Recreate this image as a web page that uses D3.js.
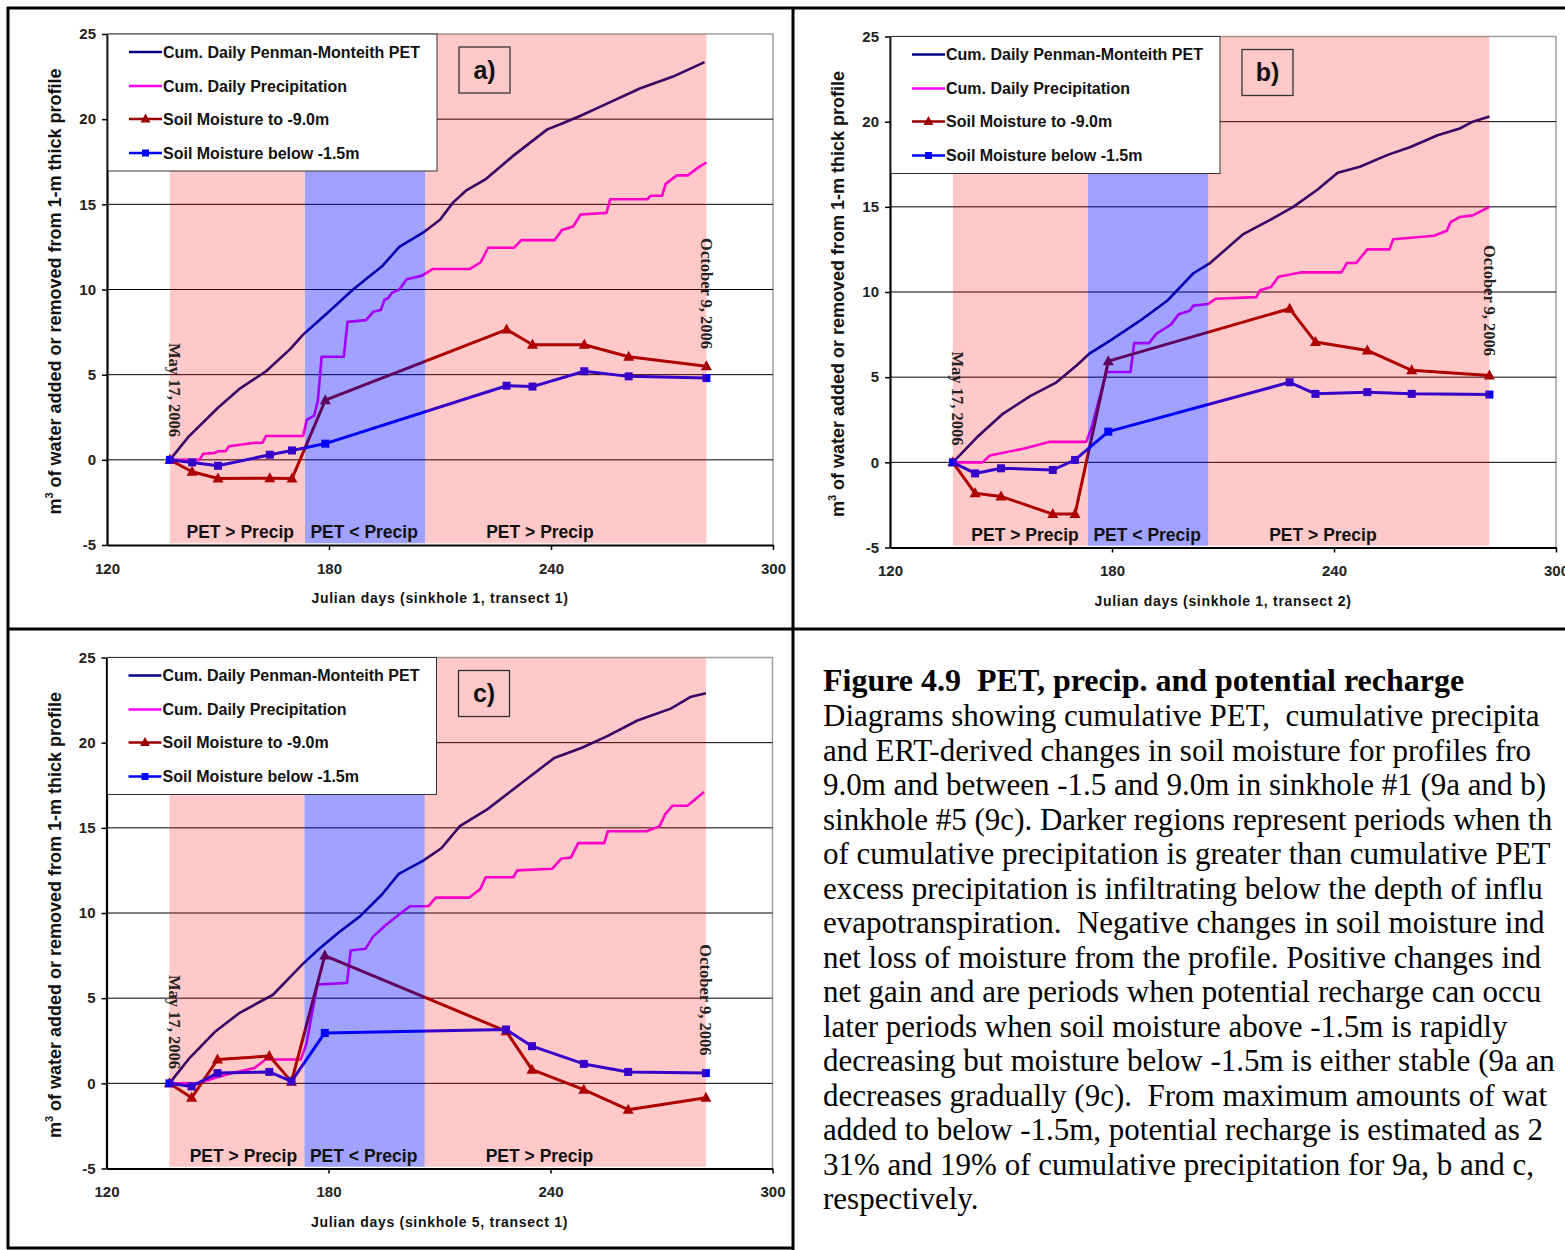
<!DOCTYPE html>
<html>
<head>
<meta charset="utf-8">
<script src="https://cdn.jsdelivr.net/npm/d3@7"></script>
<style>
  html, body { margin: 0; padding: 0; background: #fff; overflow: hidden; }
  svg { display: block; }
</style>
</head>
<body>
<div id="chart"></div>
<script>
'use strict';

const WIDTH = 1565;
const HEIGHT = 1250;

// survey days for the ERT soil moisture points
const sampleDays = [137, 143, 150, 164, 170, 179, 228, 235, 249, 261, 282];

// panel a (sinkhole 1, transect 1)
const petA = [[137, 0], [142, 1.35], [150, 3.06], [156, 4.2], [163, 5.2], [169.5, 6.5], [173, 7.35], [179.5, 8.6],
  [186.5, 10], [194.5, 11.4], [199, 12.5], [205.5, 13.35], [210, 14.1], [213.5, 15.1], [217, 15.8], [222.5, 16.5],
  [229.5, 17.8], [239, 19.4], [242.5, 19.7], [248, 20.2], [255, 20.9], [264, 21.8], [273, 22.5], [281.5, 23.35]];
const precipA = [[137, 0], [145, 0], [146, 0.35], [149, 0.4], [150, 0.5], [152, 0.5], [153, 0.8], [160, 1.0],
  [162, 1.0], [163, 1.4], [173, 1.4], [174, 2.35], [176, 2.6], [177, 3.5], [178, 6.05], [184, 6.05], [185, 8.1],
  [190, 8.2], [192, 8.7], [194, 8.8], [195, 9.4], [196, 9.5], [197, 9.8], [199, 10], [201, 10.6], [205, 10.8],
  [208, 11.2], [218, 11.2], [221, 11.6], [223, 12.45], [230, 12.45], [232, 12.9], [241, 12.9], [243, 13.5],
  [246, 13.7], [248, 14.4], [255, 14.5], [256, 15.3], [266, 15.3], [267, 15.5], [270, 15.5], [271, 16.2],
  [274, 16.7], [277, 16.7], [280, 17.2], [282, 17.45]];
const soil9A = [0, -0.7, -1.1, -1.08, -1.1, 3.5, 7.65, 6.76, 6.76, 6.05, 5.5];
const soil15A = [0, -0.15, -0.35, 0.3, 0.55, 0.95, 4.35, 4.3, 5.2, 4.9, 4.8];

// panel b (sinkhole 1, transect 2)
const petB = [[137, 0], [143.5, 1.47], [150.5, 2.85], [158, 3.9], [165, 4.7], [170.5, 5.7], [174, 6.4], [179.5, 7.15],
  [187.5, 8.3], [195, 9.5], [202, 11.1], [206.5, 11.7], [215.5, 13.4], [222.5, 14.2], [229, 15.0], [235.5, 16.0],
  [241, 17.0], [247, 17.35], [254.5, 18.05], [260.5, 18.5], [268, 19.2], [274, 19.6], [277.5, 20], [282, 20.3]];
const precipB = [[137, 0], [145, 0], [147, 0.4], [156, 0.8], [163, 1.2], [173, 1.2], [174.5, 2.05], [178.5, 5.3],
  [185, 5.3], [186, 7.0], [190, 7.0], [192, 7.55], [196, 8.1], [198, 8.7], [201, 8.9], [202, 9.2], [206, 9.3],
  [208, 9.6], [219, 9.7], [220, 10.1], [223, 10.3], [225, 10.9], [231, 11.15], [242, 11.15], [243.5, 11.7],
  [246, 11.7], [249, 12.5], [255, 12.5], [256, 13.1], [267, 13.3], [270.5, 13.6], [271.5, 14.1], [274, 14.4],
  [277.5, 14.5], [282, 15.0]];
const soil9B = [0, -1.82, -2.0, -3.04, -3.04, 5.94, 9.02, 7.06, 6.57, 5.4, 5.1];
const soil15B = [0, -0.65, -0.35, -0.45, 0.14, 1.8, 4.7, 4.02, 4.12, 4.02, 3.98];

// panel c (sinkhole 5, transect 1)
const petC = [[137, 0], [142.5, 1.5], [149.5, 3.06], [156, 4.14], [165, 5.2], [173, 7.0], [177.5, 7.9], [183, 8.9],
  [188.5, 9.8], [194.5, 11.1], [199, 12.3], [205.5, 13.06], [210.5, 13.8], [215.5, 15.1], [223, 16.1], [232, 17.6],
  [241, 19.1], [248.5, 19.7], [255.5, 20.4], [263.5, 21.3], [272.5, 22.0], [278, 22.7], [282, 22.9]];
const precipC = [[137, 0], [145, 0], [149, 0.3], [154, 0.6], [160, 0.9], [163, 1.4], [172.5, 1.4], [174, 2.3],
  [177, 5.8], [185, 5.9], [186, 7.8], [190, 7.9], [192, 8.6], [195.5, 9.3], [199, 9.9], [202, 10.4], [207, 10.4],
  [209, 10.9], [218, 10.9], [221, 11.4], [222.5, 12.1], [230, 12.1], [231, 12.5], [240.5, 12.6], [243, 13.2],
  [245.5, 13.25], [247.5, 14.1], [254.5, 14.1], [255.5, 14.8], [266, 14.8], [269.5, 15.1], [271, 15.8],
  [273, 16.3], [277, 16.3], [281.5, 17.1]];
const soil9C = [0, -0.85, 1.4, 1.6, 0.1, 7.5, 3.06, 0.8, -0.37, -1.55, -0.85];
const soil15C = [0, -0.18, 0.6, 0.67, 0.12, 2.96, 3.16, 2.18, 1.14, 0.67, 0.6];

// PET vs precipitation periods
const periodStarts = [137, 173.5, 206];
const periodEnds = [173.5, 206, 282];
const periodLabels = ['PET > Precip', 'PET < Precip', 'PET > Precip'];

const yTicks = [-5, 0, 5, 10, 15, 20, 25];
const xTicks = [120, 180, 240, 300];
const legendLabels = ['Cum. Daily Penman-Monteith PET', 'Cum. Daily Precipitation',
  'Soil Moisture to -9.0m', 'Soil Moisture below -1.5m'];

const colors = {
  pet: '#000080',
  precip: '#FF00FF',
  soil9: '#990000',
  soil15: '#0000FF'
};

const PW = 666;
const PH = 511;

const panels = [
  { tag: 'a)', left: 107, top: 34, pet: petA, precip: precipA, soil9: soil9A, soil15: soil15A,
    xTitle: 'Julian days (sinkhole 1, transect 1)', labelDays: [156, 189.5, 237], mayV: 4.1, octV: 9.76 },
  { tag: 'b)', left: 890, top: 36.5, pet: petB, precip: precipB, soil9: soil9B, soil15: soil15B,
    xTitle: 'Julian days (sinkhole 1, transect 2)', labelDays: [156.5, 189.5, 237], mayV: 3.75, octV: 9.5 },
  { tag: 'c)', left: 106.5, top: 657.5, pet: petC, precip: precipC, soil9: soil9C, soil15: soil15C,
    xTitle: 'Julian days (sinkhole 5, transect 1)', labelDays: [157, 189.5, 237], mayV: 3.6, octV: 4.9 }
];

// caption as visible in the figure (the page cuts it at the right edge)
const captionTitle = 'Figure 4.9  PET, precip. and potential recharge';
const captionLines = [
  'Diagrams showing cumulative PET,  cumulative precipita',
  'and ERT-derived changes in soil moisture for profiles fro',
  '9.0m and between -1.5 and 9.0m in sinkhole #1 (9a and b)',
  'sinkhole #5 (9c). Darker regions represent periods when th',
  'of cumulative precipitation is greater than cumulative PET',
  'excess precipitation is infiltrating below the depth of influ',
  'evapotranspiration.  Negative changes in soil moisture ind',
  'net loss of moisture from the profile. Positive changes ind',
  'net gain and are periods when potential recharge can occu',
  'later periods when soil moisture above -1.5m is rapidly',
  'decreasing but moisture below -1.5m is either stable (9a an',
  'decreases gradually (9c).  From maximum amounts of wat',
  'added to below -1.5m, potential recharge is estimated as 2',
  '31% and 19% of cumulative precipitation for 9a, b and c,',
  'respectively.'
];

const SANS = 'Liberation Sans, Arial, sans-serif';
const SERIF = 'Liberation Serif, Times New Roman, serif';

const svg = d3.select('#chart')
  .append('svg')
    .attr('width', WIDTH)
    .attr('height', HEIGHT);

svg.append('rect')
  .attr('width', WIDTH)
  .attr('height', HEIGHT)
  .attr('fill', '#fff');

function triangle(g, cx, cy, s, color) {
  g.append('path')
    .attr('d', `M${cx},${cy - s * 0.6}L${cx + s * 0.55},${cy + s * 0.4}L${cx - s * 0.55},${cy + s * 0.4}Z`)
    .attr('fill', color);
}

function square(g, cx, cy, s, color) {
  g.append('rect')
    .attr('x', cx - s / 2)
    .attr('y', cy - s / 2)
    .attr('width', s)
    .attr('height', s)
    .attr('fill', color);
}

function drawPanel(p) {
  const g = svg.append('g');
  const x = d3.scaleLinear().domain([120, 300]).range([p.left, p.left + PW]);
  const y = d3.scaleLinear().domain([-5, 25]).range([p.top + PH, p.top]);

  // plot area frame (top and right)
  g.append('path')
    .attr('d', `M${x(120)},${y(25)}H${x(300)}V${y(-5)}`)
    .attr('fill', 'none')
    .attr('stroke', '#a0a0a0')
    .attr('stroke-width', 1.5);

  // gridlines
  g.selectAll('.grid')
    .data([0, 5, 10, 15, 20])
    .enter()
    .append('line')
      .attr('x1', x(120))
      .attr('x2', x(300))
      .attr('y1', (d) => y(d))
      .attr('y2', (d) => y(d))
      .attr('stroke', '#000')
      .attr('stroke-width', 1);

  const line = d3.line()
    .x((d) => x(d[0]))
    .y((d) => y(d[1]));

  g.append('path')
    .attr('d', line(p.pet))
    .attr('fill', 'none')
    .attr('stroke', colors.pet)
    .attr('stroke-width', 2.6)
    .attr('stroke-linejoin', 'round');

  g.append('path')
    .attr('d', line(p.precip))
    .attr('fill', 'none')
    .attr('stroke', colors.precip)
    .attr('stroke-width', 2.6)
    .attr('stroke-linejoin', 'round');

  const soil9 = sampleDays.map((d, i) => [d, p.soil9[i]]);
  const soil15 = sampleDays.map((d, i) => [d, p.soil15[i]]);

  g.append('path')
    .attr('d', line(soil9))
    .attr('fill', 'none')
    .attr('stroke', colors.soil9)
    .attr('stroke-width', 3)
    .attr('stroke-linejoin', 'round');
  soil9.forEach((d) => triangle(g, x(d[0]), y(d[1]), 10, colors.soil9));

  g.append('path')
    .attr('d', line(soil15))
    .attr('fill', 'none')
    .attr('stroke', colors.soil15)
    .attr('stroke-width', 3)
    .attr('stroke-linejoin', 'round');
  soil15.forEach((d) => square(g, x(d[0]), y(d[1]), 8, colors.soil15));

  // translucent period bands over the series
  periodStarts.forEach((s, i) => {
    g.append('rect')
      .attr('x', x(s))
      .attr('y', y(25))
      .attr('width', x(periodEnds[i]) - x(s))
      .attr('height', y(-4.9) - y(25))
      .attr('fill', i === 1 ? '#0000FF' : '#FF0000')
      .attr('opacity', i === 1 ? 0.37 : 0.21);
  });

  // axes
  const yAxis = g.append('g')
    .attr('transform', `translate(${x(120)},0)`)
    .call(d3.axisLeft(y).tickValues(yTicks).tickFormat((d) => String(d))
      .tickSize(5).tickSizeOuter(0).tickPadding(6));
  const xAxis = g.append('g')
    .attr('transform', `translate(0,${y(-5)})`)
    .call(d3.axisBottom(x).tickValues(xTicks).tickFormat((d) => String(d))
      .tickSize(5).tickSizeOuter(0).tickPadding(13));
  [yAxis, xAxis].forEach((a) => {
    a.select('.domain').attr('stroke', '#000').attr('stroke-width', 2.2);
    a.selectAll('.tick line').attr('stroke', '#000').attr('stroke-width', 1.5);
    a.selectAll('.tick text')
      .attr('font-family', SANS)
      .attr('font-weight', 'bold')
      .attr('font-size', '15px')
      .attr('fill', '#222');
  });
  xAxis.selectAll('.tick').filter((d) => d === 120).select('line').remove();

  // axis titles
  g.append('text')
    .attr('x', p.left + PW / 2)
    .attr('y', y(-5) + 58)
    .attr('text-anchor', 'middle')
    .attr('font-family', SANS)
    .attr('font-weight', 'bold')
    .attr('font-size', '14px')
    .attr('letter-spacing', '0.7px')
    .attr('fill', '#111')
    .text(p.xTitle);

  const yt = g.append('text')
    .attr('transform', `translate(${p.left - 46},${p.top + PH / 2 + 2}) rotate(-90)`)
    .attr('text-anchor', 'middle')
    .attr('font-family', SANS)
    .attr('font-weight', 'bold')
    .attr('font-size', '18px')
    .attr('fill', '#111');
  yt.append('tspan').text('m');
  yt.append('tspan').attr('font-size', '11px').attr('dy', -8).text('3');
  yt.append('tspan').attr('dy', 8).text(' of water added or removed from 1-m thick profile');

  // period labels
  periodLabels.forEach((t, i) => {
    g.append('text')
      .attr('x', x(p.labelDays[i]))
      .attr('y', y(-5) - 7)
      .attr('text-anchor', 'middle')
      .attr('font-family', SANS)
      .attr('font-weight', 'bold')
      .attr('font-size', '17.5px')
      .attr('fill', '#111')
      .text(t);
  });

  // date labels
  [[137, p.mayV, 'May 17, 2006', 5], [282, p.octV, 'October 9, 2006', 0]].forEach((d) => {
    g.append('text')
      .attr('transform', `translate(${x(d[0]) + d[3]},${y(d[1])}) rotate(90)`)
      .attr('text-anchor', 'middle')
      .attr('dominant-baseline', 'central')
      .attr('font-family', SERIF)
      .attr('font-weight', 'bold')
      .attr('font-size', '16.5px')
      .attr('fill', '#222')
      .text(d[2]);
  });

  // legend
  const lg = g.append('g').attr('transform', `translate(${p.left + 1},${p.top})`);
  lg.append('rect')
    .attr('width', 329)
    .attr('height', 137)
    .attr('fill', '#fff')
    .attr('stroke', '#333')
    .attr('stroke-width', 1);
  const rowY = [18, 52, 85, 119];
  const keys = ['pet', 'precip', 'soil9', 'soil15'];
  keys.forEach((k, i) => {
    lg.append('line')
      .attr('x1', 21)
      .attr('x2', 54)
      .attr('y1', rowY[i])
      .attr('y2', rowY[i])
      .attr('stroke', colors[k])
      .attr('stroke-width', 2.6);
    if (k === 'soil9') triangle(lg, 37.5, rowY[i], 9, colors[k]);
    if (k === 'soil15') square(lg, 37.5, rowY[i], 7, colors[k]);
    lg.append('text')
      .attr('x', 55)
      .attr('y', rowY[i])
      .attr('dy', '0.35em')
      .attr('font-family', SANS)
      .attr('font-weight', 'bold')
      .attr('font-size', '16px')
      .attr('fill', '#111')
      .text(legendLabels[i]);
  });

  // panel tag
  g.append('rect')
    .attr('x', p.left + 352)
    .attr('y', p.top + 13)
    .attr('width', 51)
    .attr('height', 46)
    .attr('fill', 'none')
    .attr('stroke', '#333')
    .attr('stroke-width', 1.3);
  g.append('text')
    .attr('x', p.left + 352 + 25.5)
    .attr('y', p.top + 13 + 23)
    .attr('dy', '0.35em')
    .attr('text-anchor', 'middle')
    .attr('font-family', SANS)
    .attr('font-weight', 'bold')
    .attr('font-size', '25px')
    .attr('fill', '#111')
    .text(p.tag);
}

panels.forEach(drawPanel);

// caption panel
const cap = svg.append('g');
cap.append('text')
  .attr('x', 823)
  .attr('y', 691)
  .attr('font-family', SERIF)
  .attr('font-weight', 'bold')
  .attr('font-size', '32px')
  .attr('fill', '#000')
  .style('white-space', 'pre')
  .text(captionTitle);
captionLines.forEach((t, i) => {
  cap.append('text')
    .attr('x', 823)
    .attr('y', 726 + i * 34.5)
    .attr('font-family', SERIF)
    .attr('font-size', '31px')
    .attr('fill', '#000')
    .style('white-space', 'pre')
    .text(t);
});

// panel frames
const frame = [
  [8, 7, 8, 1249],
  [7, 8, WIDTH, 8],
  [793, 7, 793, HEIGHT],
  [7, 629, WIDTH, 629],
  [7, 1248, 793, 1248]
];
svg.selectAll('.frame')
  .data(frame)
  .enter()
  .append('line')
    .attr('x1', (d) => d[0])
    .attr('y1', (d) => d[1])
    .attr('x2', (d) => d[2])
    .attr('y2', (d) => d[3])
    .attr('stroke', '#000')
    .attr('stroke-width', 3);
</script>
</body>
</html>
